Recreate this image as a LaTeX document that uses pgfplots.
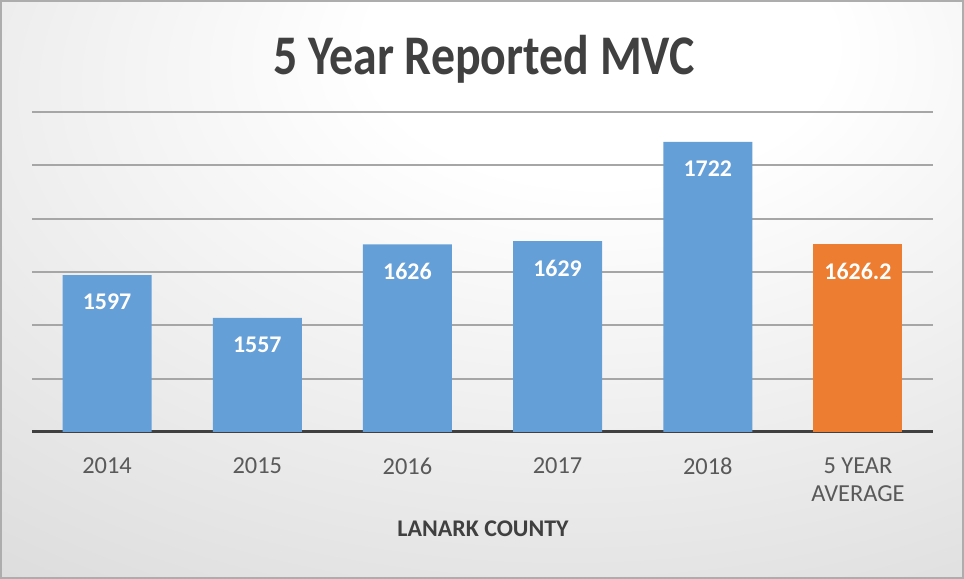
\documentclass[border=0pt]{standalone}
\usepackage{pgfplots}
\pgfplotsset{compat=1.18}
\usepackage{fontspec}
\setmainfont{Carlito}
\definecolor{barblue}{HTML}{659FD7}
\definecolor{barorange}{HTML}{ED7D31}
\definecolor{titlegray}{HTML}{404040}
\definecolor{tickgray}{HTML}{595959}
\definecolor{gridgray}{HTML}{A6A6A6}
\pgfdeclareradialshading{bgshade}{\pgfpoint{7bp}{24bp}}{color(0bp)=(white); color(12bp)=(white); color(70bp)=(black!22); color(100bp)=(black!25)}
\begin{document}
\begin{tikzpicture}
\path[shading=bgshade] (0,0) rectangle (964bp,579bp);
\draw[black!32, line width=2bp] (1bp,1bp) rectangle (963bp,578bp);
\begin{axis}[
  at={(32bp,147bp)}, anchor=south west,
  scale only axis, width=901bp, height=320bp,
  xmin=-0.5, xmax=5.5, ymin=1450, ymax=1750,
  ytick={1450,1500,...,1750}, yticklabels={},
  ymajorgrids, grid style={gridgray, line width=2bp},
  axis x line*=bottom, axis y line*=left,
  y axis line style={draw=none},
  x axis line style={titlegray, line width=3bp, -},
  tick style={draw=none},
  xtick={0,1,2,3,4,5},
  xticklabels={2014,2015,2016,2017,2018,{5 YEAR\\AVERAGE}},
  xticklabel style={font=\fontsize{24.5}{28}\selectfont, text=tickgray, align=center, yshift=-22bp},
  every node near coord/.append style={font=\fontsize{24}{24}\selectfont\bfseries, text=white, anchor=center, yshift=-27bp},
  clip=true,
]
\addplot[ybar, bar width=89bp, bar shift=0pt, fill=barblue, draw=none, point meta=explicit symbolic, nodes near coords]
  coordinates {(0,1597)[1597] (1,1557)[1557] (2,1626)[1626] (3,1629)[1629] (4,1722)[1722]};
\addplot[ybar, bar width=89bp, bar shift=0pt, fill=barorange, draw=none, point meta=explicit symbolic, nodes near coords]
  coordinates {(5,1626.2)[1626.2]};
\end{axis}
\node[anchor=base, text=titlegray, font=\fontsize{48}{48}\selectfont\bfseries, yscale=1.17, transform shape] at (484bp,504bp) {5 Year Reported MVC};
\node[anchor=base, text=titlegray, font=\fontsize{24}{24}\selectfont\bfseries] at (483bp,42bp) {LANARK COUNTY};
\end{tikzpicture}
\end{document}
